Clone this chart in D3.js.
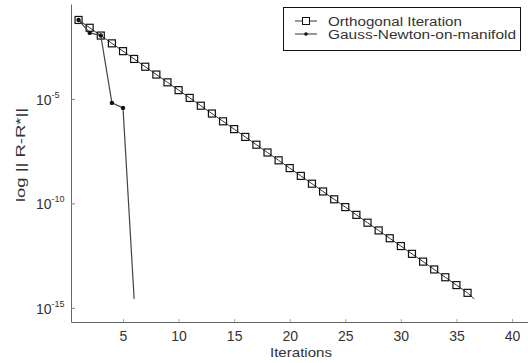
<!DOCTYPE html>
<html>
<head>
<meta charset="utf-8">
<script src="https://cdn.jsdelivr.net/npm/d3@7"></script>
<style>
  body { margin: 0; background: #fff; }
  text { font-family: "Liberation Sans", Arial, sans-serif; fill: #333; }
</style>
</head>
<body>
<div id="chart"></div>
<script>
// data
var orthoIter = [1, 2, 3, 4, 5, 6, 7, 8, 9, 10, 11, 12, 13, 14, 15, 16, 17, 18,
  19, 20, 21, 22, 23, 24, 25, 26, 27, 28, 29, 30, 31, 32, 33, 34, 35, 36];
var orthoErr = [6.03e-2, 2.55e-2, 1.08e-2, 4.57e-3, 1.94e-3, 8.2e-4, 3.48e-4, 1.47e-4,
  6.22e-5, 2.64e-5, 1.12e-5, 4.73e-6, 2.0e-6, 8.47e-7, 3.59e-7, 1.52e-7, 6.44e-8,
  2.73e-8, 1.15e-8, 4.89e-9, 2.07e-9, 8.77e-10, 3.72e-10, 1.57e-10, 6.65e-11,
  2.82e-11, 1.19e-11, 5.06e-12, 2.14e-12, 9.06e-13, 3.84e-13, 1.63e-13, 6.89e-14,
  2.91e-14, 1.23e-14, 5.22e-15];
// the line runs a little past the last marker
var orthoTail = [36.6, 2.69e-15];

var gnIter = [1, 2, 3, 4, 5, 6];
var gnErr = [6.03e-2, 1.45e-2, 1.1e-2, 6.46e-6, 3.72e-6, 2.69e-15];

var xTicks = [5, 10, 15, 20, 25, 30, 35, 40];
var yTickExp = [-15, -10, -5];
var legendLabels = ["Orthogonal Iteration", "Gauss-Newton-on-manifold"];

var W = 528, H = 363;
var plotLeft = 71, plotRight = 528, plotTop = 4, plotBottom = 322;

var svg = d3.select("#chart").append("svg")
  .attr("width", W)
  .attr("height", H);

var x = d3.scaleLinear().domain([0.32, 41.44]).range([plotLeft, plotRight]);
var y = d3.scaleLog().domain([2.1e-16, 0.35]).range([plotBottom, plotTop]);

// axes, ticks pointing inward
var xAxis = svg.append("g")
  .attr("transform", "translate(0," + plotBottom + ")")
  .call(d3.axisBottom(x).tickValues(xTicks).tickSizeInner(-3).tickSizeOuter(0).tickPadding(7));
xAxis.select(".domain").attr("stroke", "#666");
xAxis.selectAll(".tick line").attr("stroke", "#aaa");
xAxis.selectAll(".tick text")
  .style("font-size", "14px")
  .attr("fill", "#333")
  .attr("dy", "0.85em");

var yAxis = svg.append("g")
  .attr("transform", "translate(" + plotLeft + ",0)")
  .call(d3.axisLeft(y)
    .tickValues(yTickExp.map(function (e) { return Math.pow(10, e); }))
    .tickSizeInner(-4).tickSizeOuter(0).tickFormat(""));
yAxis.select(".domain").attr("stroke", "#666");
yAxis.selectAll(".tick line").attr("stroke", "#888");

// y tick labels as 10 with a superscript
yTickExp.forEach(function (e) {
  var t = svg.append("text")
    .attr("x", 36)
    .attr("y", y(Math.pow(10, e)) + 6)
    .style("font-size", "14px");
  t.append("tspan").text("10");
  t.append("tspan").attr("dy", -7).style("font-size", "9px").text(e);
});

// axis titles
svg.append("text")
  .attr("x", 301)
  .attr("y", 357)
  .attr("text-anchor", "middle")
  .style("font-size", "13px")
  .attr("textLength", 62)
  .attr("lengthAdjust", "spacingAndGlyphs")
  .text("Iterations");

svg.append("text")
  .attr("transform", "translate(25,155) rotate(-90)")
  .attr("text-anchor", "middle")
  .style("font-size", "13px")
  .attr("textLength", 94)
  .attr("lengthAdjust", "spacingAndGlyphs")
  .text("log  || R-R*||");

// lines
var line = d3.line()
  .x(function (d) { return x(d[0]); })
  .y(function (d) { return y(d[1]); });

var orthoPts = orthoIter.map(function (d, i) { return [d, orthoErr[i]]; });
var gnPts = gnIter.map(function (d, i) { return [d, gnErr[i]]; });

svg.append("path")
  .datum(orthoPts.concat([orthoTail]))
  .attr("fill", "none")
  .attr("stroke", "#333")
  .attr("stroke-width", 1)
  .attr("d", line);

svg.selectAll(".sq")
  .data(orthoPts)
  .enter()
  .append("rect")
  .attr("class", "sq")
  .attr("x", function (d) { return x(d[0]) - 3.5; })
  .attr("y", function (d) { return y(d[1]) - 3.5; })
  .attr("width", 7)
  .attr("height", 7)
  .attr("fill", "none")
  .attr("stroke", "#111")
  .attr("stroke-width", 1.2);

svg.append("path")
  .datum(gnPts)
  .attr("fill", "none")
  .attr("stroke", "#444")
  .attr("stroke-width", 1.2)
  .attr("d", line);

svg.selectAll(".dot")
  .data(gnPts.slice(0, 5))
  .enter()
  .append("circle")
  .attr("class", "dot")
  .attr("cx", function (d) { return x(d[0]); })
  .attr("cy", function (d) { return y(d[1]); })
  .attr("r", 2.2)
  .attr("fill", "#111");

// legend
var lg = svg.append("g");
lg.append("rect")
  .attr("x", 283.5)
  .attr("y", 7.5)
  .attr("width", 237)
  .attr("height", 43)
  .attr("fill", "#fff")
  .attr("stroke", "#111");

legendLabels.forEach(function (lab, i) {
  var ly = 21 + i * 13;
  lg.append("line")
    .attr("x1", 295).attr("x2", 317)
    .attr("y1", ly).attr("y2", ly)
    .attr("stroke", "#333");
  if (i == 0) {
    lg.append("rect")
      .attr("x", 302.5).attr("y", ly - 3.5)
      .attr("width", 7).attr("height", 7)
      .attr("fill", "#fff").attr("stroke", "#111");
  } else {
    lg.append("circle").attr("cx", 306).attr("cy", ly).attr("r", 1.8).attr("fill", "#111");
  }
  lg.append("text")
    .attr("x", 328)
    .attr("y", ly + 4.5)
    .style("font-size", "12px")
    .attr("textLength", i == 0 ? 134 : 188)
    .attr("lengthAdjust", "spacingAndGlyphs")
    .text(lab);
});
</script>
</body>
</html>
